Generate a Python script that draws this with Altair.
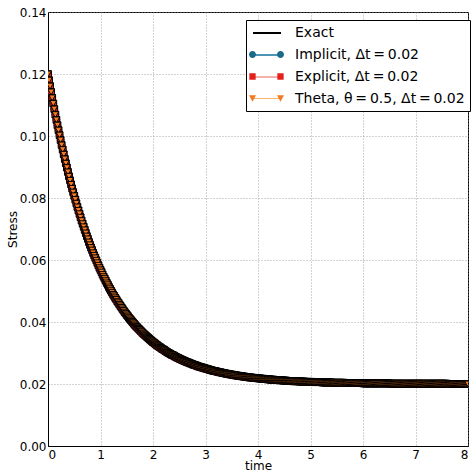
import altair as alt
import pandas as pd

# Stress relaxation under constant strain, sampled every 0.02 time units (t = 0 .. 8)
stress = [
    # t = 0.00 .. 0.98
    0.1200, 0.1180, 0.1161, 0.1142, 0.1123, 0.1105, 0.1087, 0.1069, 0.1052, 0.1035,
    0.1019, 0.1003, 0.0987, 0.0971, 0.0956, 0.0941, 0.0926, 0.0912, 0.0898, 0.0884,
    0.0870, 0.0857, 0.0844, 0.0831, 0.0819, 0.0807, 0.0795, 0.0783, 0.0771, 0.0760,
    0.0749, 0.0738, 0.0727, 0.0717, 0.0707, 0.0697, 0.0687, 0.0677, 0.0668, 0.0658,
    0.0649, 0.0640, 0.0632, 0.0623, 0.0615, 0.0607, 0.0599, 0.0591, 0.0583, 0.0575,
    # t = 1.00 .. 1.98
    0.0568, 0.0561, 0.0553, 0.0546, 0.0540, 0.0533, 0.0526, 0.0520, 0.0513, 0.0507,
    0.0501, 0.0495, 0.0489, 0.0484, 0.0478, 0.0473, 0.0467, 0.0462, 0.0457, 0.0452,
    0.0447, 0.0442, 0.0437, 0.0432, 0.0428, 0.0423, 0.0419, 0.0414, 0.0410, 0.0406,
    0.0402, 0.0398, 0.0394, 0.0390, 0.0386, 0.0383, 0.0379, 0.0376, 0.0372, 0.0369,
    0.0365, 0.0362, 0.0359, 0.0356, 0.0353, 0.0350, 0.0347, 0.0344, 0.0341, 0.0338,
    # t = 2.00 .. 2.98
    0.0335, 0.0333, 0.0330, 0.0327, 0.0325, 0.0322, 0.0320, 0.0318, 0.0315, 0.0313,
    0.0311, 0.0309, 0.0306, 0.0304, 0.0302, 0.0300, 0.0298, 0.0296, 0.0294, 0.0293,
    0.0291, 0.0289, 0.0287, 0.0285, 0.0284, 0.0282, 0.0280, 0.0279, 0.0277, 0.0276,
    0.0274, 0.0273, 0.0271, 0.0270, 0.0269, 0.0267, 0.0266, 0.0265, 0.0263, 0.0262,
    0.0261, 0.0260, 0.0258, 0.0257, 0.0256, 0.0255, 0.0254, 0.0253, 0.0252, 0.0251,
    # t = 3.00 .. 3.98
    0.0250, 0.0249, 0.0248, 0.0247, 0.0246, 0.0245, 0.0244, 0.0243, 0.0242, 0.0242,
    0.0241, 0.0240, 0.0239, 0.0238, 0.0238, 0.0237, 0.0236, 0.0235, 0.0235, 0.0234,
    0.0233, 0.0233, 0.0232, 0.0231, 0.0231, 0.0230, 0.0230, 0.0229, 0.0228, 0.0228,
    0.0227, 0.0227, 0.0226, 0.0226, 0.0225, 0.0225, 0.0224, 0.0224, 0.0223, 0.0223,
    0.0222, 0.0222, 0.0221, 0.0221, 0.0221, 0.0220, 0.0220, 0.0219, 0.0219, 0.0219,
    # t = 4.00 .. 4.98
    0.0218, 0.0218, 0.0218, 0.0217, 0.0217, 0.0217, 0.0216, 0.0216, 0.0216, 0.0215,
    0.0215, 0.0215, 0.0214, 0.0214, 0.0214, 0.0214, 0.0213, 0.0213, 0.0213, 0.0213,
    0.0212, 0.0212, 0.0212, 0.0212, 0.0211, 0.0211, 0.0211, 0.0211, 0.0210, 0.0210,
    0.0210, 0.0210, 0.0210, 0.0209, 0.0209, 0.0209, 0.0209, 0.0209, 0.0209, 0.0208,
    0.0208, 0.0208, 0.0208, 0.0208, 0.0208, 0.0207, 0.0207, 0.0207, 0.0207, 0.0207,
    # t = 5.00 .. 5.98
    0.0207, 0.0207, 0.0206, 0.0206, 0.0206, 0.0206, 0.0206, 0.0206, 0.0206, 0.0206,
    0.0206, 0.0205, 0.0205, 0.0205, 0.0205, 0.0205, 0.0205, 0.0205, 0.0205, 0.0205,
    0.0205, 0.0204, 0.0204, 0.0204, 0.0204, 0.0204, 0.0204, 0.0204, 0.0204, 0.0204,
    0.0204, 0.0204, 0.0204, 0.0203, 0.0203, 0.0203, 0.0203, 0.0203, 0.0203, 0.0203,
    0.0203, 0.0203, 0.0203, 0.0203, 0.0203, 0.0203, 0.0203, 0.0203, 0.0203, 0.0203,
    # t = 6.00 .. 6.98
    0.0202, 0.0202, 0.0202, 0.0202, 0.0202, 0.0202, 0.0202, 0.0202, 0.0202, 0.0202,
    0.0202, 0.0202, 0.0202, 0.0202, 0.0202, 0.0202, 0.0202, 0.0202, 0.0202, 0.0202,
    0.0202, 0.0202, 0.0202, 0.0202, 0.0202, 0.0202, 0.0201, 0.0201, 0.0201, 0.0201,
    0.0201, 0.0201, 0.0201, 0.0201, 0.0201, 0.0201, 0.0201, 0.0201, 0.0201, 0.0201,
    0.0201, 0.0201, 0.0201, 0.0201, 0.0201, 0.0201, 0.0201, 0.0201, 0.0201, 0.0201,
    # t = 7.00 .. 8.00
    0.0201, 0.0201, 0.0201, 0.0201, 0.0201, 0.0201, 0.0201, 0.0201, 0.0201, 0.0201,
    0.0201, 0.0201, 0.0201, 0.0201, 0.0201, 0.0201, 0.0201, 0.0201, 0.0201, 0.0201,
    0.0201, 0.0201, 0.0201, 0.0201, 0.0201, 0.0201, 0.0201, 0.0201, 0.0201, 0.0201,
    0.0201, 0.0200, 0.0200, 0.0200, 0.0200, 0.0200, 0.0200, 0.0200, 0.0200, 0.0200,
    0.0200, 0.0200, 0.0200, 0.0200, 0.0200, 0.0200, 0.0200, 0.0200, 0.0200, 0.0200,
    0.0200,
]

time_step = 0.02
time = [round(i * time_step, 2) for i in range(len(stress))]

series_names = [
    "Exact",
    "Implicit, Δt\u2009=\u20090.02",
    "Explicit, Δt\u2009=\u20090.02",
    "Theta, θ\u2009=\u20090.5, Δt\u2009=\u20090.02",
]
line_colors = ["#000000", "#2a7fa8", "#f08a80", "#fdb46c"]
line_widths = [2, 1, 1, 1]
marker_colors = ["#000000", "#1a6a8a", "#e3201c", "#f47a22"]
marker_shapes = ["circle", "square", "triangle-down"]

# Legend handles: a pair of markers either side of the line sample
handle_line = "M-2,0H2"
handle_markers = [
    "M0,0",
    "M-2.5,0A0.5,0.5 0 1,0 -1.5,0A0.5,0.5 0 1,0 -2.5,0Z"
    "M1.5,0A0.5,0.5 0 1,0 2.5,0A0.5,0.5 0 1,0 1.5,0Z",
    "M-2.45,-0.45H-1.55V0.45H-2.45Z M1.55,-0.45H2.45V0.45H1.55Z",
    "M-2.5,-0.45L-1.5,-0.45L-2,0.45Z M1.5,-0.45L2.5,-0.45L2,0.45Z",
]

rows = []
for name in series_names:
    for t, s in zip(time, stress):
        rows.append({"time": t, "stress": s, "series": name, "label": name})
df = pd.DataFrame(rows)

x_enc = alt.X(
    "time:Q",
    scale=alt.Scale(domain=[0, 8], nice=False, zero=False),
    axis=alt.Axis(values=list(range(9)), format="d", title="time"),
)
y_enc = alt.Y(
    "stress:Q",
    scale=alt.Scale(domain=[0, 0.14], nice=False),
    axis=alt.Axis(values=[0, 0.02, 0.04, 0.06, 0.08, 0.10, 0.12, 0.14],
                  format=".2f", title="Stress"),
)

legend_common = dict(
    orient="none",
    legendX=198,
    legendY=8,
    title=None,
    padding=5,
    rowPadding=7,
    symbolSize=196,
    labelFont="DejaVu Sans",
    labelFontSize=14,
    labelColor="black",
    labelLimit=400,
)

line_legend = alt.Legend(
    symbolType=handle_line,
    symbolOffset=8,
    labelOffset=20,
    strokeColor="black",
    fillColor="white",
    zindex=1,
    **legend_common,
)
marker_legend = alt.Legend(
    symbolOffset=8,
    labelOffset=21,
    symbolStrokeColor="black",
    symbolStrokeWidth=0.8,
    symbolOpacity=1,
    labelOpacity=0,
    zindex=2,
    **legend_common,
)

lines = alt.Chart(df).mark_line(clip=True).encode(
    x=x_enc,
    y=y_enc,
    color=alt.Color("series:N", scale=alt.Scale(domain=series_names, range=line_colors),
                    legend=line_legend),
    strokeWidth=alt.StrokeWidth("series:N",
                                scale=alt.Scale(domain=series_names, range=line_widths),
                                legend=line_legend),
    detail="series:N",
)

markers = alt.Chart(df).transform_filter(
    alt.datum.series != "Exact"
).mark_point(filled=True, stroke="black", strokeWidth=1, size=46, opacity=1, clip=True).encode(
    x=x_enc,
    y=y_enc,
    shape=alt.Shape("series:N", scale=alt.Scale(domain=series_names[1:], range=marker_shapes),
                    legend=None),
    fill=alt.Fill("series:N", scale=alt.Scale(domain=series_names[1:], range=marker_colors[1:]),
                  legend=None),
)

legend_markers = alt.Chart(df).transform_filter(
    alt.datum.time == 0
).mark_point(filled=True, opacity=0).encode(
    x=x_enc,
    y=y_enc,
    shape=alt.Shape("label:N", scale=alt.Scale(domain=series_names, range=handle_markers),
                    legend=marker_legend),
    fill=alt.Fill("label:N", scale=alt.Scale(domain=series_names, range=marker_colors),
                  legend=marker_legend),
)

chart = alt.layer(lines, markers, legend_markers).resolve_scale(
    shape="independent", fill="independent"
).properties(
    width=420,
    height=434,
    padding={"left": 48, "top": 12, "right": 5, "bottom": 27},
    autosize=alt.AutoSizeParams(type="none"),
    background="white",
).configure_view(
    stroke="black", strokeWidth=1
).configure_axis(
    labelFont="DejaVu Sans",
    labelFontSize=12,
    labelColor="black",
    titleFont="DejaVu Sans",
    titleFontSize=12,
    titleFontWeight="normal",
    titleColor="black",
    domainColor="black",
    domainWidth=1,
    ticks=False,
    labelPadding=3,
    grid=True,
    gridColor="#909090",
    gridDash=[1, 2],
    gridWidth=0.8,
).configure_axisX(
    titlePadding=0
).configure_axisY(
    titlePadding=0, labelPadding=2
)

chart.save("out.html", embed_options={"renderer": "svg", "actions": False})
